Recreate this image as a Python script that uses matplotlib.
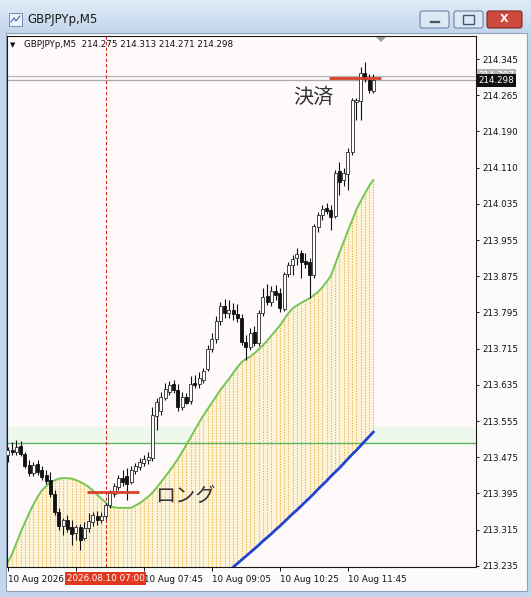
import numpy as np
import matplotlib
matplotlib.use("Agg")
import matplotlib.pyplot as plt
from matplotlib.patches import Rectangle, FancyBboxPatch, Polygon
from matplotlib.colors import LinearSegmentedColormap
import matplotlib.transforms as mtransforms

# ---------------- data ----------------
symbol = "GBPJPYp,M5"
opens = [
    213.478, 213.489, 213.484, 213.497, 213.480, 213.456, 213.438, 213.458, 213.445, 213.434,
    213.423, 213.392, 213.353, 213.322, 213.335, 213.320, 213.307, 213.320, 213.296, 213.318,
    213.331, 213.344, 213.335, 213.344, 213.368, 213.392, 213.408, 213.427, 213.432, 213.418,
    213.443, 213.451, 213.460, 213.467, 213.471, 213.563, 213.574, 213.602, 213.616, 213.633,
    213.620, 213.583, 213.605, 213.596, 213.635, 213.633, 213.642, 213.666, 213.710, 213.732,
    213.771, 213.804, 213.789, 213.795, 213.786, 213.778, 213.725, 213.714, 213.747, 213.723,
    213.789, 213.826, 213.813, 213.837, 213.832, 213.797, 213.874, 213.894, 213.909, 213.920,
    213.902, 213.900, 213.872, 213.977, 214.003, 214.019, 214.014, 214.001, 214.100, 214.080,
    214.093, 214.141, 214.251, 214.253, 214.314, 214.299, 214.275]
highs = [
    213.495, 213.506, 213.510, 213.508, 213.484, 213.467, 213.462, 213.467, 213.453, 213.445,
    213.440, 213.401, 213.362, 213.340, 213.346, 213.335, 213.324, 213.326, 213.331, 213.351,
    213.353, 213.355, 213.353, 213.372, 213.401, 213.416, 213.434, 213.445, 213.449, 213.453,
    213.460, 213.471, 213.478, 213.484, 213.583, 213.602, 213.616, 213.635, 213.640, 213.642,
    213.633, 213.616, 213.613, 213.651, 213.653, 213.659, 213.668, 213.718, 213.745, 213.782,
    213.813, 213.819, 213.817, 213.810, 213.808, 213.786, 213.740, 213.756, 213.760, 213.795,
    213.843, 213.852, 213.848, 213.850, 213.843, 213.878, 213.900, 213.916, 213.931, 213.927,
    213.920, 213.909, 213.983, 214.010, 214.025, 214.029, 214.025, 214.102, 214.119, 214.106,
    214.150, 214.259, 214.259, 214.327, 214.338, 214.312, 214.313]
lows = [
    213.462, 213.478, 213.478, 213.475, 213.449, 213.432, 213.432, 213.434, 213.423, 213.414,
    213.386, 213.346, 213.313, 213.302, 213.309, 213.280, 213.291, 213.270, 213.291, 213.309,
    213.322, 213.324, 213.329, 213.337, 213.362, 213.386, 213.401, 213.410, 213.379, 213.414,
    213.436, 213.445, 213.453, 213.458, 213.464, 213.532, 213.565, 213.598, 213.609, 213.613,
    213.574, 213.576, 213.589, 213.589, 213.624, 213.624, 213.635, 213.662, 213.703, 213.723,
    213.762, 213.778, 213.778, 213.773, 213.769, 213.718, 213.686, 213.708, 213.716, 213.716,
    213.782, 213.806, 213.804, 213.817, 213.791, 213.793, 213.867, 213.872, 213.894, 213.865,
    213.887, 213.821, 213.865, 213.966, 213.992, 214.005, 213.970, 213.997, 214.047, 214.067,
    214.058, 214.135, 214.211, 214.211, 214.294, 214.270, 214.271]
closes = [
    213.489, 213.484, 213.495, 213.480, 213.453, 213.438, 213.456, 213.440, 213.429, 213.421,
    213.392, 213.353, 213.322, 213.335, 213.316, 213.305, 213.320, 213.291, 213.318, 213.333,
    213.346, 213.335, 213.344, 213.368, 213.394, 213.410, 213.427, 213.418, 213.414, 213.445,
    213.453, 213.462, 213.469, 213.473, 213.565, 213.594, 213.605, 213.622, 213.631, 213.620,
    213.583, 213.605, 213.591, 213.633, 213.631, 213.646, 213.662, 213.710, 213.732, 213.771,
    213.804, 213.789, 213.795, 213.786, 213.778, 213.725, 213.714, 213.745, 213.723, 213.789,
    213.824, 213.813, 213.837, 213.828, 213.800, 213.874, 213.894, 213.907, 213.918, 213.900,
    213.896, 213.872, 213.979, 214.003, 214.016, 214.012, 213.999, 214.095, 214.075, 214.095,
    214.141, 214.255, 214.255, 214.314, 214.301, 214.277, 214.298]
ma_fast = [
    213.243, 213.261, 213.284, 213.308, 213.329, 213.350, 213.369, 213.386, 213.400, 213.409,
    213.419, 213.422, 213.426, 213.427, 213.427, 213.426, 213.423, 213.419, 213.414, 213.408,
    213.400, 213.391, 213.382, 213.374, 213.365, 213.363, 213.362, 213.362, 213.362, 213.362,
    213.367, 213.372, 213.379, 213.386, 213.395, 213.406, 213.418, 213.430, 213.442, 213.455,
    213.469, 213.484, 213.500, 213.516, 213.533, 213.549, 213.564, 213.578, 213.592, 213.606,
    213.620, 213.632, 213.644, 213.657, 213.670, 213.681, 213.688, 213.693, 213.700, 213.709,
    213.718, 213.728, 213.739, 213.750, 213.761, 213.775, 213.788, 213.799, 213.805, 213.811,
    213.816, 213.821, 213.828, 213.835, 213.845, 213.857, 213.870, 213.895, 213.920, 213.944,
    213.968, 213.991, 214.015, 214.033, 214.050, 214.067, 214.080]
ma_slow = [np.nan] * 53 + [
    213.232, 213.240, 213.248, 213.256, 213.264, 213.272, 213.280, 213.289, 213.297, 213.305,
    213.314, 213.322, 213.331, 213.340, 213.349, 213.357, 213.366, 213.375, 213.384, 213.393,
    213.403, 213.412, 213.421, 213.431, 213.440, 213.449, 213.459, 213.469, 213.479, 213.488,
    213.498, 213.508, 213.518, 213.528]
ask_price = 214.307
level_line = 213.504
level_band_top = 213.540
cursor_bar = 23
cursor_label = "2026.08.10 07:00"
entry_price = 213.397
entry_span = (18.6, 30.9)
exit_price = 214.303
exit_span = (75.6, 87.8)
entry_text = ("ロング", 34.6, 213.387)
exit_text = ("決済", 67.1, 214.261)
y_labels = ["213.235", "213.315", "213.395", "213.475", "213.555", "213.635", "213.715",
            "213.795", "213.875", "213.955", "214.035", "214.110", "214.190", "214.265", "214.345"]
y_tick_range = (213.235, 214.345)
x_tick_bars = [0, 16, 32, 48, 64, 80]
x_labels = ["10 Aug 2026", "10 Aug 06:25", "10 Aug 07:45", "10 Aug 09:05",
            "10 Aug 10:25", "10 Aug 11:45"]

# ---------------- figure ----------------
W, H = 531, 597
fig = plt.figure(figsize=(W / 100, H / 100), dpi=100)
fig.patch.set_facecolor("#c4d6eb")


def fx(px):
    return px / W


def fy(py):
    return 1 - py / H


# title bar gradient
tb = fig.add_axes([0, fy(33), 1, 33 / H], zorder=-10)
grad = np.linspace(0, 1, 64).reshape(-1, 1)
tb.imshow(grad, aspect="auto", extent=[0, 1, 0, 1], origin="upper",
          cmap=LinearSegmentedColormap.from_list("tb", ["#e0ebf7", "#c3d6ec"]))
tb.axis("off")

# client area
fig.patches.append(Rectangle((fx(6), fy(591)), (527 - 6) / W, (591 - 33) / H,
                             transform=fig.transFigure, fc="#fcfafa", ec="#8fa2bb",
                             lw=0.8, zorder=-5))
# icon
fig.patches.append(Rectangle((fx(9), fy(26)), 13 / W, 13 / H, transform=fig.transFigure,
                             fc="#eef3fb", ec="#7590bb", lw=0.7, zorder=2))
fig.lines.append(plt.Line2D([fx(11), fx(14), fx(16), fx(20)], [fy(22), fy(18), fy(21), fy(16)],
                            transform=fig.transFigure, color="#3a66b0", lw=0.8, zorder=3))
fig.text(fx(27), fy(20), symbol, fontsize=8.5, va="center", ha="left", color="#1b1b1b")

# window buttons
for (x0, x1, fc, ec) in [(420, 449, "#dde8f5", "#6e86a8"), (454, 483, "#dde8f5", "#6e86a8"),
                         (487, 522, "#cc4a3b", "#7e2b22")]:
    fig.patches.append(FancyBboxPatch((fx(x0), fy(28)), (x1 - x0) / W, 17 / H,
                                      boxstyle="round,pad=0,rounding_size=0.004",
                                      transform=fig.transFigure, fc=fc, ec=ec, lw=0.8, zorder=2))
fig.patches.append(Rectangle((fx(429), fy(23)), 11 / W, 3 / H, transform=fig.transFigure,
                             fc="#3f5675", ec="white", lw=0.4, zorder=3))
fig.patches.append(Rectangle((fx(463), fy(24)), 11 / W, 9 / H, transform=fig.transFigure,
                             fc="none", ec="#3f5675", lw=1.0, zorder=3))
fig.text(fx(504.5), fy(19.5), "X", fontsize=8, fontweight="bold", color="white",
         ha="center", va="center", zorder=4)

# ---------------- chart axes ----------------
ax = fig.add_axes([fx(7), fy(567), (476 - 7) / W, (567 - 36) / H])
ax.set_facecolor("#fffafa")
ax.set_xlim(-0.19, 110.16)
ax.set_ylim(213.2325, 214.3954)
ymin = ax.get_ylim()[0]

o = np.array(opens)
h = np.array(highs)
l = np.array(lows)
c = np.array(closes)
x = np.arange(len(o))
fast = np.array(ma_fast)
slow = np.array(ma_slow, dtype=float)

# level line and band
ax.axhspan(level_line, level_band_top, color="#eef8ec", lw=0, zorder=0.5)
ax.axhline(level_line, color="#5cb45c", lw=1.0, zorder=1.5)

# dotted histogram fill between fast and slow MA (slow clipped at chart bottom)
fill_bottom = np.where(np.isnan(slow), ymin, np.maximum(slow, ymin))
mask = fast > fill_bottom
ax.fill_between(x, fill_bottom, fast, where=mask, interpolate=True,
                color="#fdf4dc", lw=0, zorder=0.8)
ax.vlines(x[mask], fill_bottom[mask], fast[mask], colors="#f0bb55",
          linewidth=0.8, linestyles=(0, (1.3, 1.2)), zorder=1)

# moving averages
ax.plot(x, fast, color="#76c552", lw=1.4, zorder=2)
ax.plot(x, slow, color="#2244d6", lw=2.0, zorder=2)

# bid / ask lines
bid = closes[-1]
ax.axhline(ask_price, color="#b8b8b8", lw=0.9, zorder=1.2)
ax.axhline(bid, color="#a8a8a8", lw=0.9, zorder=1.2)

# cursor line
ax.axvline(cursor_bar, color="#d42a20", lw=0.8, ls=(0, (3, 2)), zorder=1.8)

# candles
up = c >= o
body_lo = np.minimum(o, c)
body_h = np.maximum(np.abs(c - o), 0.0012)
ax.vlines(x, l, h, color="#111111", lw=0.8, zorder=3)
ax.bar(x[up], body_h[up], bottom=body_lo[up], width=0.72, color="white",
       edgecolor="#2a2a2a", linewidth=0.6, zorder=4)
ax.bar(x[~up], body_h[~up], bottom=body_lo[~up], width=0.72, color="#111111",
       edgecolor="#111111", linewidth=0.6, zorder=4)

# trade markers
ax.hlines(entry_price, *entry_span, color="#d8412c", lw=2.0, zorder=5)
ax.hlines(exit_price, *exit_span, color="#d8412c", lw=2.0, zorder=5)
cjk = ["Noto Sans CJK JP", "DejaVu Sans"]
ax.text(entry_text[1], entry_text[2], entry_text[0], family=cjk, fontsize=14.5,
        color="#333333", ha="left", va="center", zorder=6)
ax.text(exit_text[1], exit_text[2], exit_text[0], family=cjk, fontsize=14.5,
        color="#333333", ha="left", va="center", zorder=6)

# axes styling
for sp in ax.spines.values():
    sp.set_color("#1a1a1a")
    sp.set_linewidth(0.8)
ax.yaxis.tick_right()
ax.set_yticks(np.linspace(y_tick_range[0], y_tick_range[1], len(y_labels)))
ax.set_yticklabels(y_labels)
ax.tick_params(axis="y", direction="out", length=2.3, width=0.7, pad=2.5,
               labelsize=6.3, colors="#111111")
ax.set_xticks(x_tick_bars)
ax.set_xticklabels(x_labels, ha="left")
ax.tick_params(axis="x", direction="out", length=3, width=0.7, pad=2.5,
               labelsize=6.3, colors="#111111")

# cursor label box on time axis (covers the tick label beneath, as in the terminal)
tx = mtransforms.blended_transform_factory(ax.transData, ax.transAxes)
ax.text(cursor_bar, -0.0215, cursor_label, transform=tx, ha="center", va="center",
        fontsize=6.3, color="white", clip_on=False, zorder=10,
        bbox=dict(boxstyle="square,pad=0.22", fc="#e2381f", ec="none"))

# price labels on the price axis
ty = mtransforms.blended_transform_factory(ax.transAxes, ax.transData)
ax.text(1.0 + 2.5 / 469, ask_price + 0.002, f"{ask_price:.3f}", transform=ty, ha="left",
        va="center", fontsize=6.3, color="white", clip_on=False, zorder=9,
        bbox=dict(boxstyle="square,pad=0.22", fc="#b5b5b5", ec="none"))
ax.text(1.0 + 2.5 / 469, bid, f"{bid:.3f}", transform=ty, ha="left", va="center",
        fontsize=6.3, color="white", clip_on=False, zorder=10,
        bbox=dict(boxstyle="square,pad=0.22", fc="#111111", ec="none"))

# header line inside chart
fig.text(fx(10), fy(44.7), "\u25bc", fontsize=5, va="center", ha="left", color="#111111")
fig.text(fx(24), fy(44.7),
         f"{symbol}  {opens[-1]:.3f} {highs[-1]:.3f} {lows[-1]:.3f} {closes[-1]:.3f}",
         fontsize=6.3, va="center", ha="left", color="#111111")

# chart shift marker
fig.patches.append(Polygon([(fx(376), fy(37)), (fx(386), fy(37)), (fx(381), fy(42))],
                           closed=True, transform=fig.transFigure, fc="#9a9a9a", ec="none",
                           zorder=3))

fig.savefig("out.png", dpi=100)
